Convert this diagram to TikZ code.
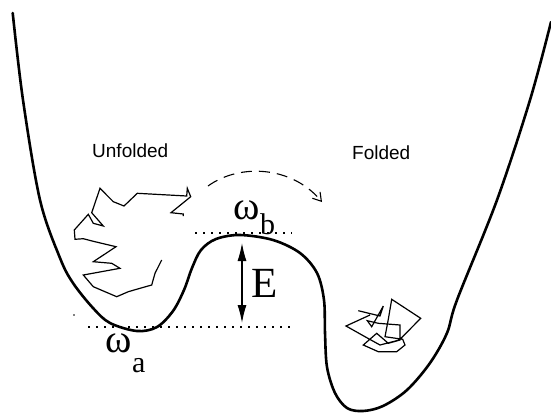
\documentclass[tikz,border=0pt]{standalone}
\usepackage{fontspec}
\setmainfont{Liberation Serif}
\newfontfamily\labelsans{Liberation Sans}
\usetikzlibrary{arrows.meta}

\begin{document}
\begin{tikzpicture}[x=1pt,y=-1pt,
  landscape/.style={line width=2.6pt, line join=round, line cap=round},
  chain/.style={line width=1.2pt, line join=miter},
  levelline/.style={line width=1.8pt, dash pattern=on 1.8pt off 6.2pt},
  statelabel/.style={font=\labelsans\fontsize{19}{20}\selectfont, inner sep=0pt, anchor=base west},
  freqlabel/.style={inner sep=0pt, anchor=base west},
  pathway/.style={line width=1.1pt, dash pattern=on 11pt off 7pt, -{Straight Barb[length=8pt,width=10pt]}},
  barrier/.style={line width=1.2pt, {Latex[length=18pt,width=9pt]}-{Latex[length=18pt,width=9pt]}}]
\useasboundingbox (0,0) rectangle (551,413);

% energy landscape: unfolded well, barrier, folded well
\draw[landscape] plot[smooth, tension=0.55] coordinates {
  (12.7,13) (23,100) (40,200) (60,258) (73,283) (93,308) (110,323) (137,331)
  (157,327) (173,311) (184,290) (192,268) (201,250) (216,239) (240,235)
  (273,240) (300,253) (317,273) (324,300) (325,333) (327,367) (335,393)
  (347,408) (363,411) (383,406) (407,390) (430,363) (447,333) (457,300)
  (497,200) (530,100) (551,22)};

% reference levels
\coordinate (la) at (88,327);
\coordinate (lb) at (292,327);
\coordinate (ta) at (195,233);
\coordinate (tb) at (292,233);
\draw[levelline] (la) -- (lb);
\draw[levelline] (ta) -- (tb);
\fill (74,315) circle (0.9pt);

% barrier height
\coordinate (eb) at (242,243);
\coordinate (et) at (242,323);
\draw[barrier] (eb) -- (et);
\node[freqlabel] (E) at (251,297) {\fontsize{43}{44}\selectfont E};

% frequency labels
\node[freqlabel] (wb) at (233.5,219) {\fontsize{40}{40}\selectfont ω\raisebox{-15pt}{\fontsize{30}{30}\selectfont b}};
\node[freqlabel] (wa) at (105.5,352) {\fontsize{40}{40}\selectfont ω\raisebox{-20pt}{\fontsize{30}{30}\selectfont a}};

% state labels
\node[statelabel] (unf) at (92,157) {Unfolded};
\node[statelabel] (fol) at (352,159) {Folded};

% folding pathway
\coordinate (ps) at (208,186);
\coordinate (pe) at (322,202);
\draw[pathway] (ps) .. controls (240,163) and (292,166) .. (pe);

% unfolded chain
\draw[chain] (161.7,260) -- (155,273.3) -- (151.7,285) -- (140,288.3) -- (128.3,291.7)
  -- (116.7,296.7) -- (93.3,286.7) -- (83.3,275) -- (120,268.3) -- (111.7,263.3)
  -- (93.3,261.7) -- (116,246.7) -- (93.3,241.3) -- (83.3,238.7) -- (75,239.3)
  -- (74.3,230) -- (88.3,214.3) -- (93.3,223.3) -- (103.3,226) -- (91.7,212.7)
  -- (100,188.3) -- (113.3,201.7) -- (124,206) -- (137.3,193.3) -- (186.7,196)
  -- (187.3,188.3) -- (190.7,196.7) -- (171,212.7) -- (183.3,214) -- (183.3,216);

% folded chain
\draw[chain] (358.3,310.7) -- (380,316) -- (383.3,306) -- (371.7,326.7) -- (367.3,320.7)
  -- (378.3,323.3) -- (400,325) -- (400,340) -- (388.3,343.3) -- (376.7,333.3)
  -- (363.3,345) -- (378.3,351.7) -- (396.7,351.7) -- (405,345) -- (402.7,339.3)
  -- (385,336.7) -- (388.3,319.3) -- (391.7,299.3) -- (420.7,318.3) -- (399.3,340)
  -- (380,345) -- (365,336.7) -- (346,326) -- (370,315);
\end{tikzpicture}
\end{document}
